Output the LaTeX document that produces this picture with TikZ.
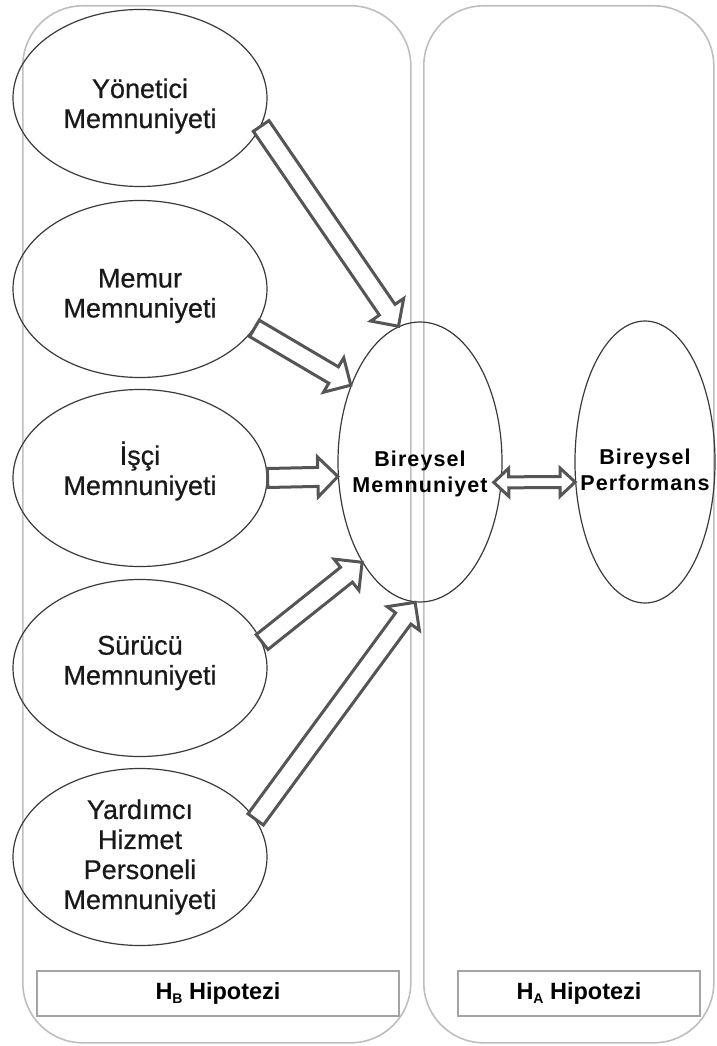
\documentclass[tikz,border=0pt]{standalone}
\usepackage{fontspec}
\setmainfont{Liberation Sans}
\newfontfamily\widefont[LetterSpace=5]{Liberation Sans}
\newfontfamily\factorfont[FakeBold=0.6]{Liberation Sans}
\usetikzlibrary{shapes.geometric,calc}

\definecolor{panelgray}{HTML}{BEBEBE}
\definecolor{boxgray}{HTML}{A4A4A4}
\definecolor{ringgray}{HTML}{3A3A3A}
\definecolor{arrowgray}{HTML}{555555}

\tikzset{
  panel/.style={draw=panelgray, line width=1.6pt, rounded corners=60pt,
    anchor=north west, inner sep=0pt},
  factor/.style={ellipse, draw=ringgray, line width=1.2pt, inner sep=0pt,
    minimum width=254pt, minimum height=177pt},
  factor text/.style={align=center, inner sep=0pt, text=black!90,
    font=\factorfont\fontsize{27}{30}\selectfont},
  outcome/.style={ellipse, draw=ringgray, line width=1.2pt, inner sep=0pt},
  outcome text/.style={align=center, inner sep=0pt,
    font=\widefont\bfseries\fontsize{21.5}{26}\selectfont},
  hypbox/.style={draw=boxgray, line width=1.5pt, minimum height=45pt,
    inner sep=0pt, font=\bfseries\fontsize{23.5}{26}\selectfont},
  blockarrow/.style={draw=arrowgray, line width=3pt, fill=white, line join=miter},
}

% hollow block arrow from #1 to #2 (tip at #2)
\newcommand\blockarrow[2]{%
  \coordinate (ba-base) at ($(#2)!20pt!(#1)$);
  \draw[blockarrow]
    ($(#1)!9.5pt!90:(#2)$) -- ($(ba-base)!9.5pt!90:(#2)$)
    -- ($(ba-base)!20pt!90:(#2)$) -- (#2)
    -- ($(ba-base)!20pt!-90:(#2)$) -- ($(ba-base)!9.5pt!-90:(#2)$)
    -- ($(#1)!9.5pt!-90:(#2)$) -- cycle;
}

% hollow double-headed block arrow between #1 and #2
\newcommand\doubleblockarrow[2]{%
  \coordinate (da-a) at ($(#1)!15pt!(#2)$);
  \coordinate (da-b) at ($(#2)!15pt!(#1)$);
  \draw[blockarrow]
    (#1) -- ($(da-a)!14pt!90:(#2)$) -- ($(da-a)!5.5pt!90:(#2)$)
    -- ($(da-b)!5.5pt!-90:(#1)$) -- ($(da-b)!14pt!-90:(#1)$) -- (#2)
    -- ($(da-b)!14pt!90:(#1)$) -- ($(da-b)!5.5pt!90:(#1)$)
    -- ($(da-a)!5.5pt!-90:(#2)$) -- ($(da-a)!14pt!-90:(#2)$) -- cycle;
}

\begin{document}
\begin{tikzpicture}[x=1pt,y=-1pt]
  \useasboundingbox (0,0) rectangle (716,1046);

  % hypothesis panels
  \node[panel, minimum width=388pt, minimum height=1037pt] (panelB) at (22,5) {};
  \node[panel, minimum width=290pt, minimum height=1037pt] (panelA) at (423,5) {};

  % panel captions
  \node[hypbox, minimum width=362pt] (capB) at (218,993.5)
    {H\raisebox{-4pt}{\fontsize{14}{14}\selectfont B} Hipotezi};
  \node[hypbox, minimum width=242pt] (capA) at (579,993.5)
    {H\raisebox{-4pt}{\fontsize{14}{14}\selectfont A} Hipotezi};

  % satisfaction factors
  \node[factor] (yon) at (140,98)  {};
  \node[factor] (mem) at (140,289) {};
  \node[factor] (isc) at (140,478) {};
  \node[factor] (sur) at (140,668) {};
  \node[factor] (yar) at (140,857) {};
  \node[factor text] (yontext) at ($(yon)+(0,8)$)  {Yönetici\\Memnuniyeti};
  \node[factor text] (memtext) at ($(mem)+(0,7)$)  {Memur\\Memnuniyeti};
  \node[factor text] (isctext) at ($(isc)+(0,-7)$) {İşçi\\Memnuniyeti};
  \node[factor text] (surtext) at ($(sur)+(0,-5)$) {Sürücü\\Memnuniyeti};
  \node[factor text] (yartext) at (yar)            {Yardımcı\\Hizmet\\Personeli\\Memnuniyeti};

  % outcomes
  \node[outcome, minimum width=164pt, minimum height=280pt] (bm) at (420,462) {};
  \node[outcome text] (bmtext) at (420,474) {Bireysel\\Memnuniyet};
  \node[outcome, minimum width=140pt, minimum height=282pt] (bp) at (645,462) {};
  \node[outcome text] (bptext) at (645,470) {Bireysel\\Performans};

  % arrows into individual satisfaction
  \blockarrow{yon.-13}{bm.99.7}
  \blockarrow{mem.-19.6}{bm.132.9}
  \blockarrow{isc.east}{bm.190.9}
  \blockarrow{sur.12}{bm.240.3}
  \blockarrow{yar.18.6}{bm.268}

  % link between satisfaction and performance
  \coordinate (bm-out) at ([xshift=-8pt]bm.-14);
  \coordinate (bp-in) at (bp.196.4);
  \doubleblockarrow{bm-out}{bp-in}
\end{tikzpicture}
\end{document}
